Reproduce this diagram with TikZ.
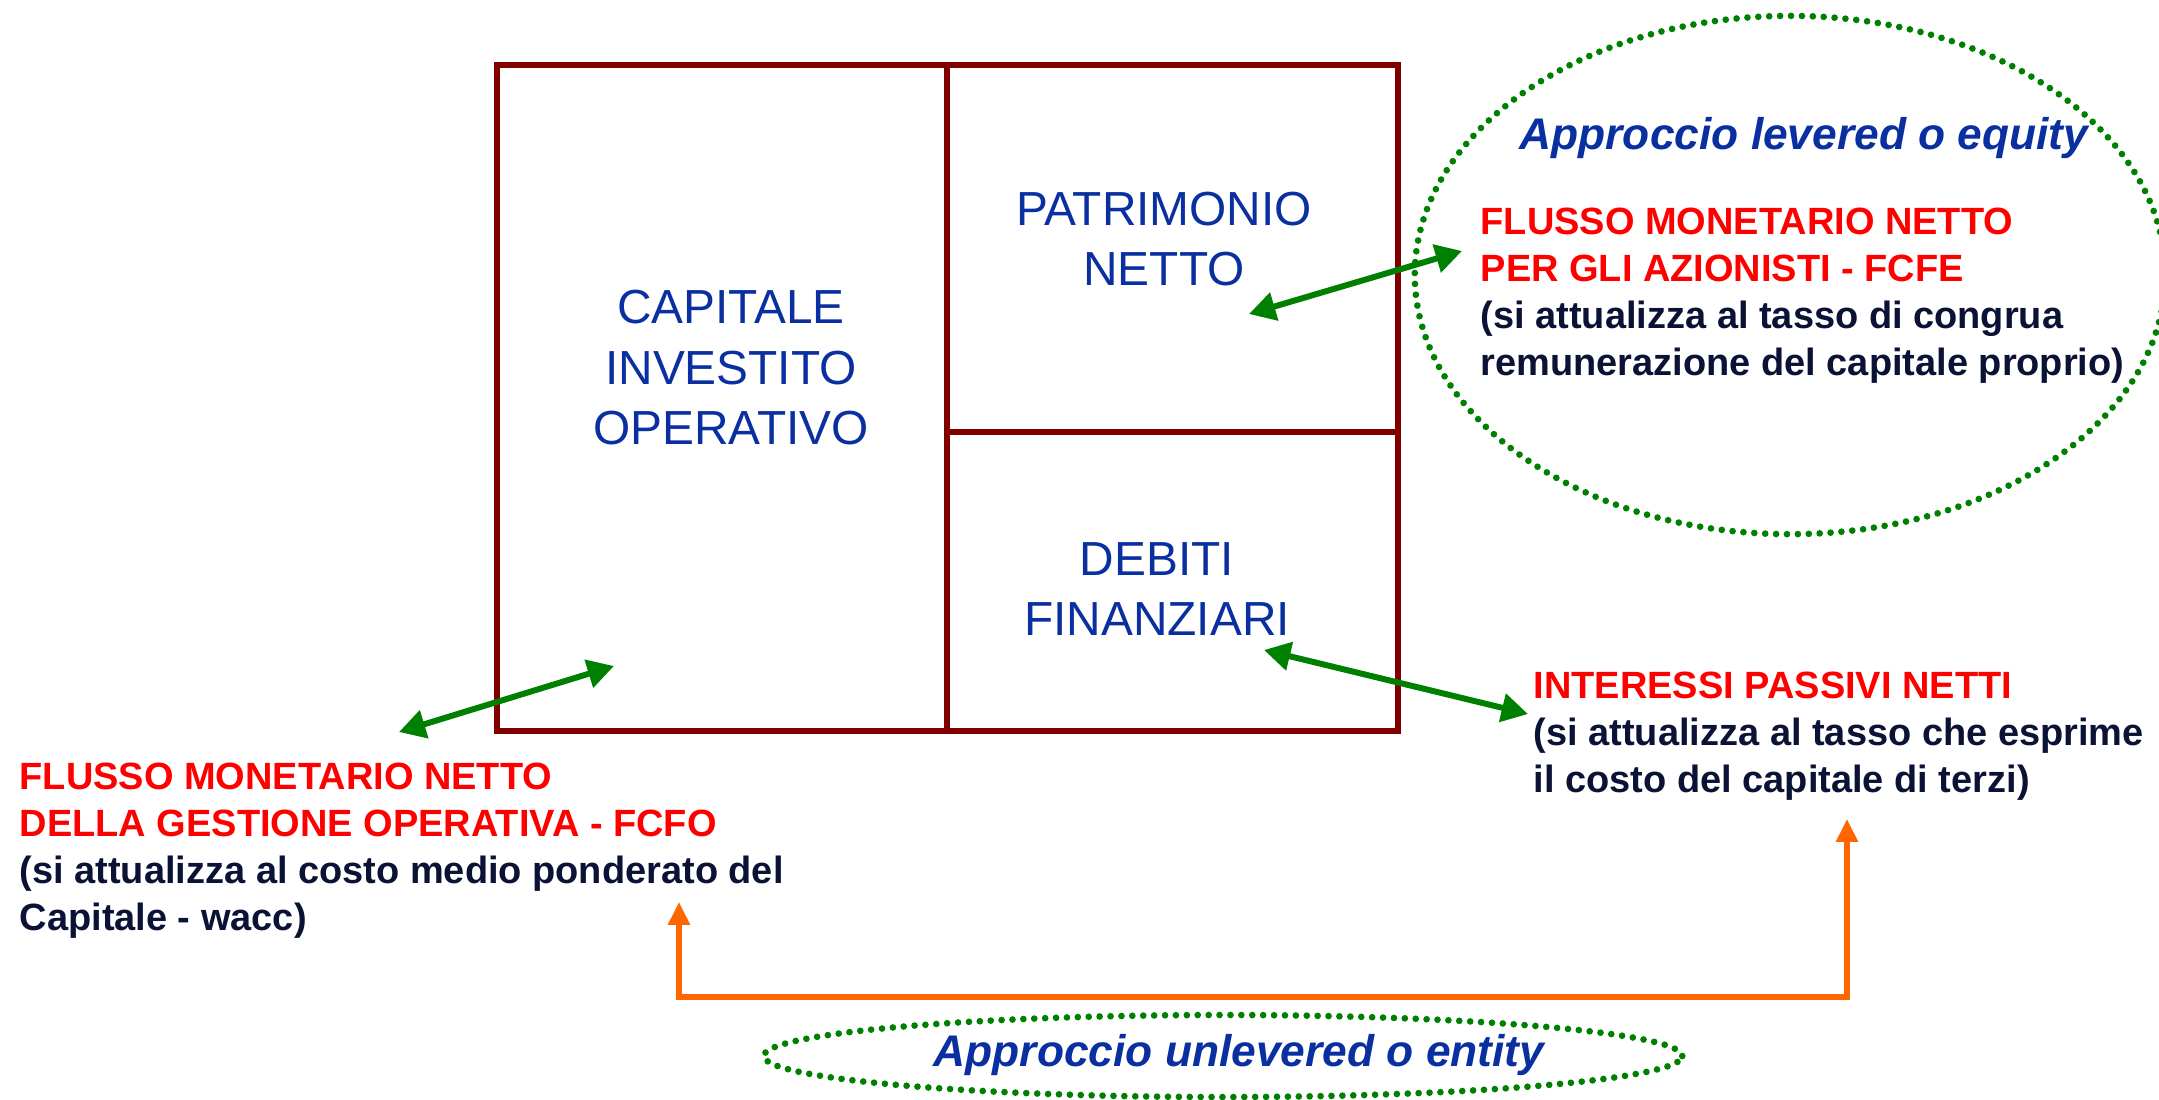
\documentclass[tikz,border=0pt]{standalone}
\usepackage{fontspec}
\setmainfont{Liberation Sans}
\usetikzlibrary{arrows.meta,shapes.geometric}
\definecolor{vaFrame}{HTML}{800000}
\definecolor{vaBlue}{HTML}{0A2FA0}
\definecolor{vaRed}{HTML}{FF0000}
\definecolor{vaNavy}{HTML}{0A1235}
\definecolor{vaGreen}{HTML}{008000}
\definecolor{vaOrange}{HTML}{FF6600}
\tikzset{
    frame/.style={draw=vaFrame,line width=1.45pt},
    celltext/.style={text=vaBlue,align=center,inner sep=0pt,font=\fontsize{13.6}{17.2}\selectfont},
    flowtext/.style={text=vaNavy,align=left,anchor=north west,inner sep=0pt,font=\fontsize{10.8}{13.4}\selectfont\bfseries},
    approach/.style={text=vaBlue,inner sep=0pt,font=\fontsize{12.6}{15}\selectfont\bfseries\itshape},
    dotring/.style={ellipse,draw=vaGreen,line width=1.9pt,line cap=round,dash pattern=on 0pt off 3.1pt,inner sep=0pt},
    link/.style={{Triangle[length=7.5pt,width=8pt]}-{Triangle[length=7.5pt,width=8pt]},line width=1.7pt,vaGreen},
    entity/.style={{Triangle[length=6.5pt,width=6pt]}-{Triangle[length=6.5pt,width=6pt]},line width=1.5pt,vaOrange}
}

\begin{document}
\begin{tikzpicture}[x=0.01cm,y=-0.01cm]
\useasboundingbox (0,0) rectangle (2159,1099);

% Balance sheet frame
\draw[frame] (497,65) rectangle (1398,731);
\draw[frame] (947,65) -- (947,731);
\draw[frame] (947,432) -- (1398,432);

\node[celltext] (civ) at (731,368) {CAPITALE\\INVESTITO\\OPERATIVO};
\node[celltext] (pn) at (1164,239) {PATRIMONIO\\NETTO};
\node[celltext] (df) at (1157,589) {DEBITI\\FINANZIARI};

% Levered approach
\node[dotring,minimum width=7.5cm,minimum height=5.18cm] (leveredRing) at (1790,275) {};
\node[approach] (leveredTitle) at (1804,138) {Approccio levered o equity};
\node[flowtext] (fcfe) at (1480,207) {\textcolor{vaRed}{FLUSSO MONETARIO NETTO}\\\textcolor{vaRed}{PER GLI AZIONISTI - FCFE}\\(si attualizza al tasso di congrua\\remunerazione del capitale proprio)};

% Operating flow and debt interest
\node[flowtext] (fcfo) at (19,762) {\textcolor{vaRed}{FLUSSO MONETARIO NETTO}\\\textcolor{vaRed}{DELLA GESTIONE OPERATIVA - FCFO}\\(si attualizza al costo medio ponderato del\\Capitale - wacc)};
\node[flowtext] (ipn) at (1533,671) {\textcolor{vaRed}{INTERESSI PASSIVI NETTI}\\(si attualizza al tasso che esprime\\il costo del capitale di terzi)};

% Unlevered approach
\node[dotring,minimum width=9.18cm,minimum height=0.82cm] (entityRing) at (1223,1056) {};
\node[approach] (entityTitle) at (1239,1055) {Approccio unlevered o entity};

% Green links
\coordinate (pnEnd) at (1249,314);
\coordinate (fcfeEnd) at (1462,251);
\coordinate (civEnd) at (614,666);
\coordinate (fcfoEnd) at (399,732);
\coordinate (dfEnd) at (1264,650);
\coordinate (ipnEnd) at (1528,714);
\draw[link] (pnEnd) -- (fcfeEnd);
\draw[link] (fcfoEnd) -- (civEnd);
\draw[link] (dfEnd) -- (ipnEnd);

% Orange bracket
\coordinate (fcfoUp) at (679,902);
\coordinate (ipnUp) at (1847,819);
\coordinate (entityBar) at (1223,997);
\draw[entity] (fcfoUp) -- (fcfoUp |- entityBar) -- (ipnUp |- entityBar) -- (ipnUp);

\end{tikzpicture}
\end{document}
